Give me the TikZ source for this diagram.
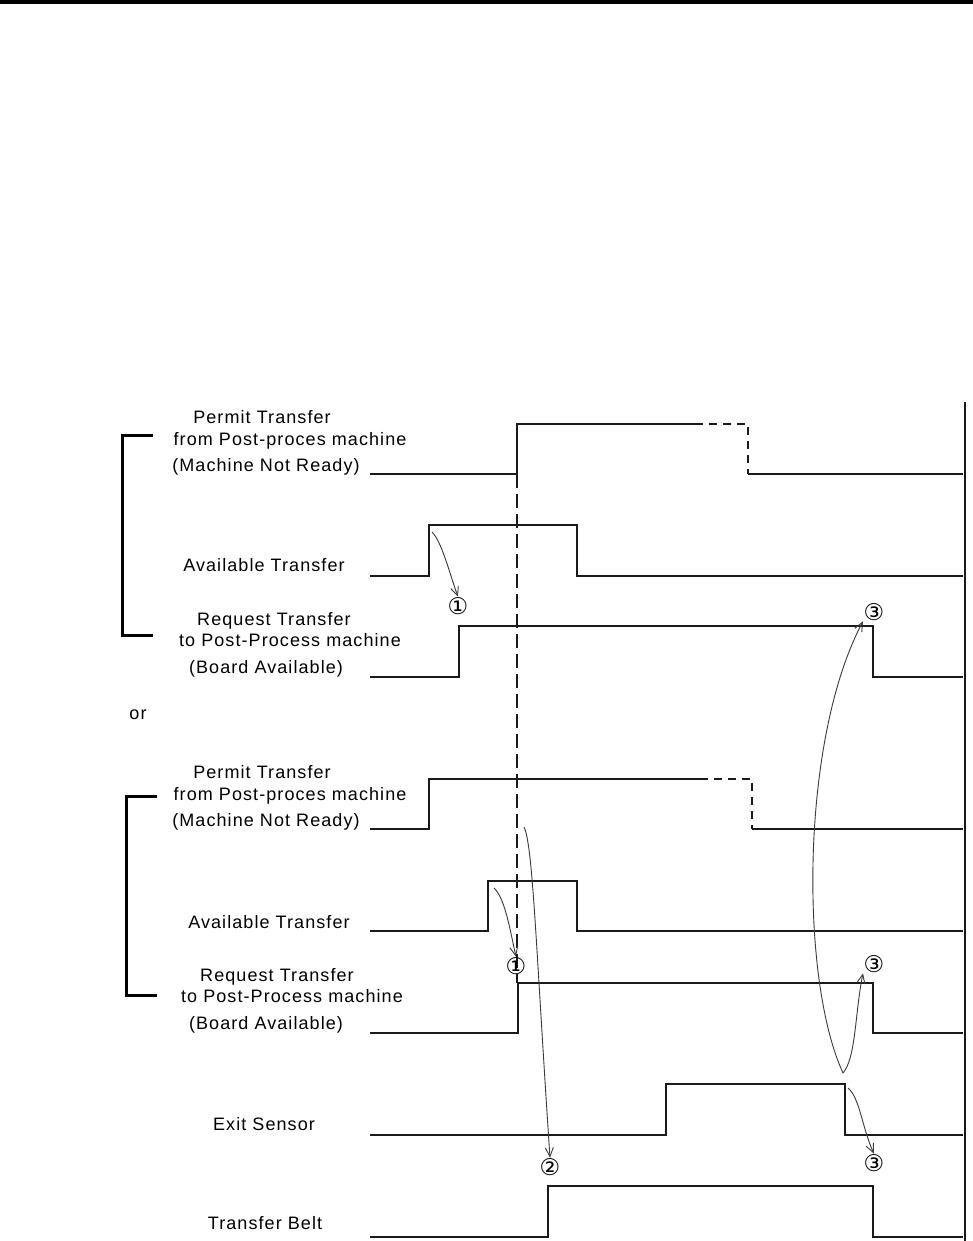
\documentclass[tikz,border=0pt]{standalone}
\usepackage{fontspec}
\setmainfont{Liberation Sans}[LetterSpace=6]
\newfontfamily\circfont{DejaVu Sans}
\usetikzlibrary{arrows.meta}
\definecolor{cink}{HTML}{1A1A1A}
\definecolor{cgrey}{HTML}{3A3A3A}
\tikzset{
  every picture/.style={x=1pt, y=-1pt, line join=miter},
  sig/.style={draw=cink, line width=1.8pt},
  dsh/.style={sig, dash pattern=on 8pt off 6pt},
  brk/.style={draw=black, line width=3pt},
  arr/.style={-{Straight Barb[length=9pt, width=8pt]}, draw=cgrey, line width=0.9pt},
  lab/.style={anchor=base, inner sep=0pt, font=\fontsize{18}{20}\selectfont},
  num/.style={inner sep=0.5pt, font=\circfont\fontsize{23}{23}\selectfont},
}

\begin{document}
\begin{tikzpicture}
  \fill[white] (0,0) rectangle (973,1241);
  \useasboundingbox (0,0) rectangle (973,1241);
  \draw[draw=black, line width=4.5pt] (0,2) -- (973,2);
  \draw[sig, line width=1.5pt] (965,402) -- (965,1241);

  % labels, first case
  \node[lab] (permA1) at (262,423.5) {Permit Transfer};
  \node[lab] (permA2) at (290,445) {from Post-proces machine};
  \node[lab] (permA3) at (266,471) {(Machine Not Ready)};
  \node[lab] (availA) at (264,571.5) {Available Transfer};
  \node[lab] (reqA1) at (274,625) {Request Transfer};
  \node[lab] (reqA2) at (290,646.5) {to Post-Process machine};
  \node[lab] (reqA3) at (266,673) {(Board Available)};
  \draw[brk] (153,435) -- (122,435) -- (122,635) -- (153,635);

  \node[lab] (or) at (138,719.5) {or};

  % labels, second case
  \node[lab] (permB1) at (262,778.5) {Permit Transfer};
  \node[lab] (permB2) at (290,800) {from Post-proces machine};
  \node[lab] (permB3) at (266,826) {(Machine Not Ready)};
  \node[lab] (availB) at (269,928.5) {Available Transfer};
  \node[lab] (reqB1) at (277,981.5) {Request Transfer};
  \node[lab] (reqB2) at (292,1002.5) {to Post-Process machine};
  \node[lab] (reqB3) at (266,1029.5) {(Board Available)};
  \node[lab] (exit) at (264,1130.5) {Exit Sensor};
  \node[lab] (belt) at (265,1229.5) {Transfer Belt};
  \draw[brk] (157,796) -- (126,796) -- (126,995) -- (157,995);

  % waveforms
  \draw[sig] (370,474) -- (517,474) -- (517,424) -- (695,424);
  \draw[dsh] (695,424) -- (748,424) -- (748,474);
  \draw[sig] (748,474) -- (963,474);
  \draw[sig] (370,576) -- (429,576) -- (429,525) -- (577,525) -- (577,576) -- (963,576);
  \draw[sig] (370,677) -- (459,677) -- (459,626) -- (873,626) -- (873,677) -- (963,677);

  \draw[sig] (370,829) -- (429,829) -- (429,779) -- (700,779);
  \draw[dsh] (700,779) -- (752,779) -- (752,829);
  \draw[sig] (752,829) -- (963,829);
  \draw[sig] (370,931) -- (488,931) -- (488,881) -- (577,881) -- (577,931) -- (963,931);
  \draw[sig] (370,1033) -- (518,1033) -- (518,983) -- (873,983) -- (873,1033) -- (963,1033);
  \draw[sig] (370,1135) -- (666,1135) -- (666,1084) -- (845,1084) -- (845,1135) -- (963,1135);
  \draw[sig] (370,1237) -- (548,1237) -- (548,1186) -- (873,1186) -- (873,1237) -- (963,1237);

  \draw[sig, dash pattern=on 14pt off 6pt] (517,474) -- (517,983);

  % circled steps
  \node[num] (oneA) at (458,606) {①};
  \node[num] (oneB) at (516,966) {①};
  \node[num] (two) at (550,1167) {②};
  \node[num] (threeA) at (874,612) {③};
  \node[num] (threeB) at (874,964) {③};
  \node[num] (threeC) at (874,1163) {③};

  \coordinate (avA) at (432,532);
  \coordinate (avB) at (494,888);
  \coordinate (permB) at (524,827);
  \coordinate (exitA) at (843,1073);
  \coordinate (exitB) at (848,1088);

  \draw[arr] (avA) .. controls (442,542) and (450,575) .. (oneA.north);
  \draw[arr] (avB) .. controls (505,898) and (510,930) .. (oneB.north);
  \draw[arr] (permB) .. controls (533,845) and (536,950) .. (two.north);
  \draw[arr] (exitA) .. controls (800,980) and (800,740) .. (threeA.south west);
  \draw[arr] (exitA) .. controls (856,1058) and (855,1012) .. (threeB.south west);
  \draw[arr] (exitB) .. controls (860,1098) and (862,1128) .. (threeC.north);
\end{tikzpicture}
\end{document}
